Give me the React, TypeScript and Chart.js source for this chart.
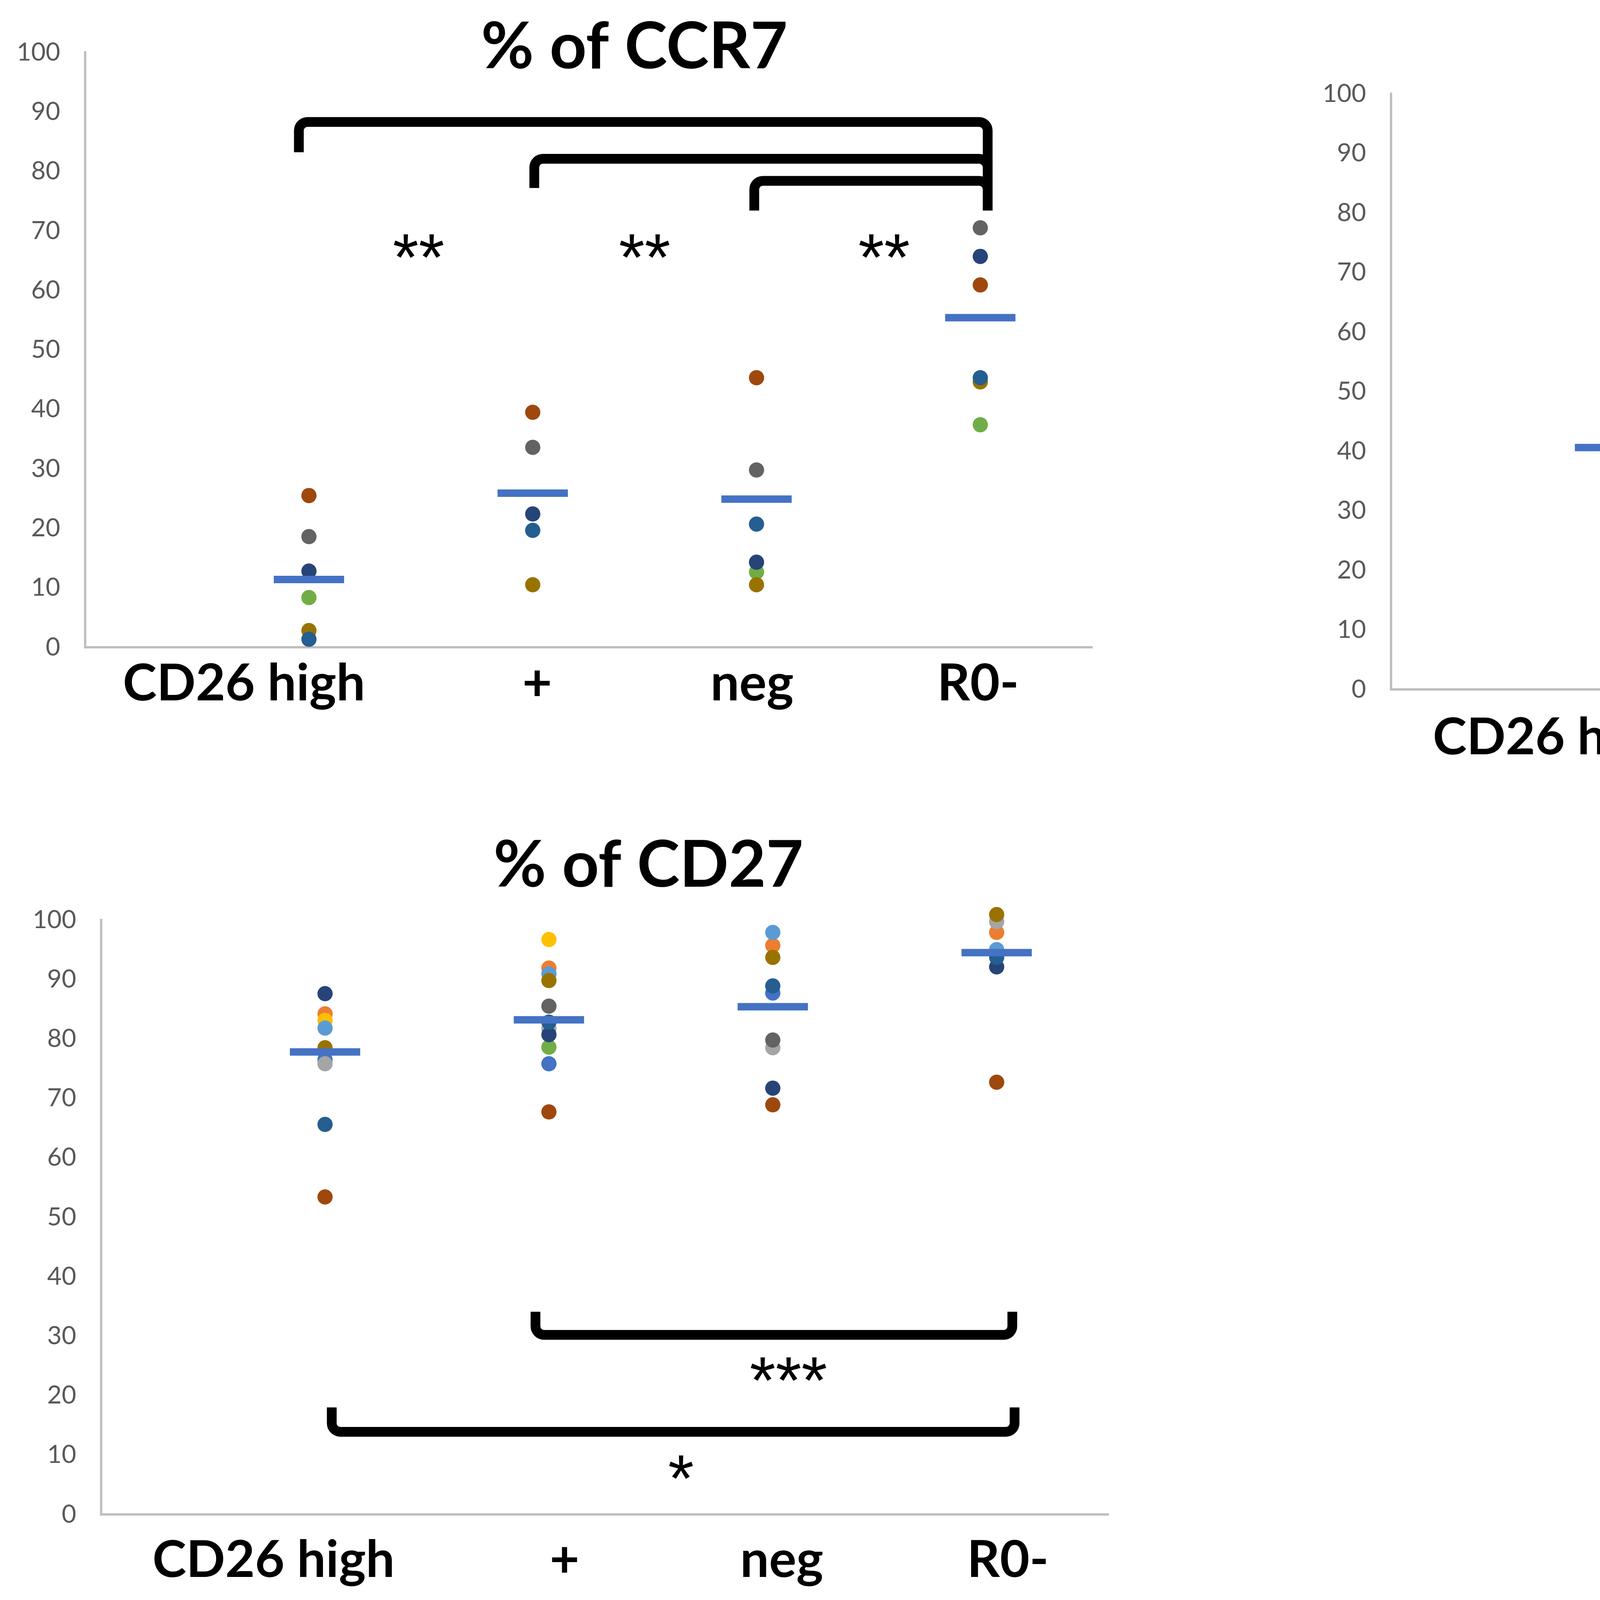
import React, { useEffect, useRef } from "react";
import { Chart, registerables } from "chart.js";

Chart.register(...registerables);

// ---------------- data ----------------
const CATEGORIES = ["CD26 high", "+", "neg", "R0-"];
const CATEGORY_X = [1, 2, 3, 4];

const DONORS = ["D1", "D2", "D3", "D4", "D5", "D6", "D7", "D8", "D9", "D10", "D11"];
const DONOR_COLORS = ["#4472C4", "#ED7D31", "#A5A5A5", "#FFC000", "#5B9BD5", "#70AD47", "#264478", "#9E480E", "#636363", "#997300", "#255E91"];
const MEAN_COLOR = "#4472C4";

type Vals = (number | null)[];

// % of CCR7 (one row per donor, one column per category)
const CCR7_VALUES: Vals[] = [
  [null, null, null, null],
  [null, null, null, null],
  [null, null, null, null],
  [null, null, null, null],
  [null, null, null, null],
  [8.35, null, 12.65, 37.4],
  [12.8, 22.4, 14.3, 65.7],
  [25.5, 39.5, 45.3, 60.9],
  [18.6, 33.6, 29.8, 70.5],
  [2.8, 10.5, 10.5, 44.6],
  [1.35, 19.65, 20.7, 45.3],
];
const CCR7_MEAN = [11.4, 25.9, 24.9, 55.4];

// % of CD62L
const CD62L_VALUES: Vals[] = [
  [15.5, 39.6, 61.5, null],
  [36.3, 64.0, null, null],
  [57.2, 65.5, null, null],
  [null, 72.2, 84.6, 99.6],
  [38.6, 62.7, 81.4, null],
  [48.1, 68.6, null, 93.6],
  [59.4, null, 79.3, null],
  [72.2, 80.3, 89.3, 100.7],
  [27.2, 58.4, 63.7, 97.5],
  [23.5, 70.7, 76.7, null],
  [31.5, 61.6, 72.2, 95.1],
];
const CD62L_MEAN = [40.6, 65.0, 76.3, 95.5];

// % of CD27
const CD27_VALUES: Vals[] = [
  [76.5, 75.8, 87.7, null],
  [84.2, 91.9, 95.7, 97.9],
  [75.8, 81.7, 78.5, 99.7],
  [83.1, 96.7, null, null],
  [81.8, 90.9, 97.9, 95.0],
  [null, 78.6, null, null],
  [87.6, 80.7, 71.7, 92.1],
  [53.4, 67.7, 68.9, 72.7],
  [null, 85.5, 79.8, null],
  [78.5, 89.8, 93.7, 100.9],
  [65.6, 82.8, 88.9, 93.7],
];
const CD27_MEAN = [77.8, 83.2, 85.4, 94.5];

// significance brackets: [x from, x to, y of bar, y of left leg end, y of right leg end]
const CCR7_BRACKETS = [
  [0.955, 4.033, 88.3, 83.2, 73.4],
  [2.007, 4.033, 82.1, 77.2, 73.4],
  [2.99, 4.033, 78.4, 73.4, 73.4],
];
const CD62L_BRACKETS = [
  [1.012, 2.035, 6.0, 9.25, 9.25],
  [2.035, 3.07, 6.0, 9.25, 9.25],
  [3.11, 4.17, 6.0, 9.25, 9.25],
];
const CD27_BRACKETS = [
  [1.94, 4.07, 30.2, 34.1, 34.1],
  [1.03, 4.08, 13.9, 18.0, 18.0],
];

// significance stars: [text, x, y]
const CCR7_STARS: [string, number, number][] = [
  ["**", 1.49, 67.4],
  ["**", 2.5, 67.4],
  ["**", 3.57, 67.4],
];
const CD62L_STARS: [string, number, number][] = [
  ["**", 1.5, 9.8],
  ["*", 2.56, 9.8],
  ["*", 3.64, 9.8],
];
const CD27_STARS: [string, number, number][] = [
  ["***", 3.07, 24.4],
  ["*", 2.59, 7.95],
];

// axis label anchors (x-axis units)
const CCR7_LABEL_AT = [0.71, 2.02, 2.98, 3.99];
const CD62L_LABEL_AT = [0.744, 2.056, 3.018, 4.042];
const CD27_LABEL_AT = [0.77, 2.07, 3.04, 4.05];

const Y_TICK_STEP = 10;

// ---------------- layout & style ----------------
const FONT = "Lato, 'Noto Sans', sans-serif";
const STAR_FONT = "'Liberation Sans', sans-serif";
const AXIS_COLOR = "#BFBFBF";
const TICK_COLOR = "#595959";

type Layout = {
  left: number; top: number; w: number; h: number;
  areaLeft: number; areaTop: number; areaRight: number; areaBottom: number;
  titleX: number; titleBase: number; xPad: number;
};

const L1: Layout = { left: 0, top: 0, w: 3000, h: 1950, areaLeft: 218, areaTop: 134, areaRight: 2796, areaBottom: 1657, titleX: 1624, titleBase: 175, xPad: 15 };
const L2: Layout = { left: 3300, top: 0, w: 2893, h: 2050, areaLeft: 3561, areaTop: 240, areaRight: 6130, areaBottom: 1765, titleX: 5000, titleBase: 192, xPad: 45 };
const L3: Layout = { left: 0, top: 2060, w: 3000, h: 2062, areaLeft: 259, areaTop: 2355, areaRight: 2838, areaBottom: 3877, titleX: 1660, titleBase: 2270, xPad: 39 };

type PanelProps = {
  layout: Layout;
  title: string;
  values: Vals[];
  mean: number[];
  brackets: number[][];
  stars: [string, number, number][];
  labelAt: number[];
};

function Panel({ layout, title, values, mean, brackets, stars, labelAt }: PanelProps) {
  const ref = useRef<HTMLCanvasElement>(null);

  useEffect(() => {
    const canvas = ref.current;
    if (!canvas) return;
    const L = layout;

    const donorSets = values.map((row, d) => ({
      label: DONORS[d],
      data: row
        .map((v, i) => (v === null ? null : { x: CATEGORY_X[i], y: v }))
        .filter((p) => p !== null),
      showLine: false,
      pointRadius: 19.5,
      pointBorderWidth: 0,
      pointBackgroundColor: DONOR_COLORS[d],
      backgroundColor: DONOR_COLORS[d],
      borderColor: DONOR_COLORS[d],
      pointStyle: "circle",
      order: 20 - d,
      clip: false,
    }));

    const meanSet = {
      label: "Mean",
      data: mean.map((v, i) => ({ x: CATEGORY_X[i], y: v })),
      showLine: false,
      pointStyle: "line",
      pointRadius: 90,
      pointBorderWidth: 19,
      pointBorderColor: MEAN_COLOR,
      borderColor: MEAN_COLOR,
      backgroundColor: MEAN_COLOR,
      order: 0,
      clip: false,
    };

    const overlay = {
      id: "overlay",
      afterDatasetsDraw(chart: any) {
        const { ctx } = chart;
        const xs = chart.scales.x;
        const ys = chart.scales.y;
        ctx.save();
        // brackets
        ctx.strokeStyle = "#000";
        ctx.lineWidth = 25;
        ctx.lineCap = "butt";
        ctx.lineJoin = "round";
        for (const [x1, x2, yb, yl, yr] of brackets) {
          const p1 = xs.getPixelForValue(x1);
          const p2 = xs.getPixelForValue(x2);
          const pb = ys.getPixelForValue(yb);
          const pl = ys.getPixelForValue(yl);
          const pr = ys.getPixelForValue(yr);
          const r = 22;
          ctx.beginPath();
          ctx.moveTo(p1, pl);
          ctx.arcTo(p1, pb, p2, pb, r);
          ctx.arcTo(p2, pb, p2, pr, r);
          ctx.lineTo(p2, pr);
          ctx.stroke();
        }
        // stars
        ctx.fillStyle = "#000";
        ctx.font = `normal 170px ${STAR_FONT}`;
        ctx.textAlign = "left";
        ctx.textBaseline = "alphabetic";
        for (const [txt, sx, sy] of stars) {
          const m = ctx.measureText(txt);
          const cx = xs.getPixelForValue(sx);
          const cy = ys.getPixelForValue(sy);
          const px = cx - (m.actualBoundingBoxRight - m.actualBoundingBoxLeft) / 2;
          const py = cy + (m.actualBoundingBoxAscent - m.actualBoundingBoxDescent) / 2;
          ctx.fillText(txt, px, py);
        }
        // title
        ctx.font = `bold 165px ${FONT}`;
        ctx.textAlign = "center";
        ctx.fillText(title, L.titleX - L.left, L.titleBase - L.top);
        ctx.restore();
      },
    };

    const chart = new Chart(canvas, {
      type: "scatter",
      data: { datasets: [meanSet, ...donorSets] as any },
      options: {
        responsive: false,
        animation: false,
        devicePixelRatio: 1,
        events: [],
        layout: {
          padding: {
            top: L.areaTop - L.top,
            right: L.left + L.w - L.areaRight,
            bottom: 0,
            left: 0,
          },
        },
        plugins: {
          legend: { display: false },
          tooltip: { enabled: false },
          title: { display: false },
        },
        scales: {
          x: {
            type: "linear",
            min: 0,
            max: 4.5,
            grid: { display: false, drawTicks: false },
            border: { display: true, color: AXIS_COLOR, width: 6 },
            afterBuildTicks: (s: any) => {
              s.ticks = labelAt.map((v) => ({ value: v }));
            },
            afterFit: (s: any) => {
              s.height = L.top + L.h - L.areaBottom;
            },
            ticks: {
              autoSkip: false,
              maxRotation: 0,
              minRotation: 0,
              padding: L.xPad,
              color: "#000",
              font: { family: FONT, size: 131, weight: "bold", lineHeight: 1.2 },
              callback: (_v: any, i: number) => CATEGORIES[i],
            },
          },
          y: {
            type: "linear",
            min: 0,
            max: 100,
            grid: { display: false, drawTicks: false },
            border: { display: true, color: AXIS_COLOR, width: 6 },
            afterFit: (s: any) => {
              s.width = L.areaLeft - L.left;
            },
            ticks: {
              stepSize: Y_TICK_STEP,
              padding: 64,
              color: TICK_COLOR,
              font: { family: FONT, size: 64, weight: "normal" },
            },
          },
        },
      } as any,
      plugins: [overlay],
    });

    return () => chart.destroy();
  }, []);

  return (
    <canvas
      ref={ref}
      width={layout.w}
      height={layout.h}
      style={{ position: "absolute", left: layout.left, top: layout.top, width: layout.w, height: layout.h }}
    />
  );
}

export default function App() {
  return (
    <div style={{ position: "absolute", left: 0, top: 0, width: 6193, height: 4122, background: "#fff", overflow: "hidden" }}>
      <Panel layout={L1} title="% of CCR7" values={CCR7_VALUES} mean={CCR7_MEAN} brackets={CCR7_BRACKETS} stars={CCR7_STARS} labelAt={CCR7_LABEL_AT} />
      <Panel layout={L2} title="% of CD62L" values={CD62L_VALUES} mean={CD62L_MEAN} brackets={CD62L_BRACKETS} stars={CD62L_STARS} labelAt={CD62L_LABEL_AT} />
      <Panel layout={L3} title="% of CD27" values={CD27_VALUES} mean={CD27_MEAN} brackets={CD27_BRACKETS} stars={CD27_STARS} labelAt={CD27_LABEL_AT} />
    </div>
  );
}
